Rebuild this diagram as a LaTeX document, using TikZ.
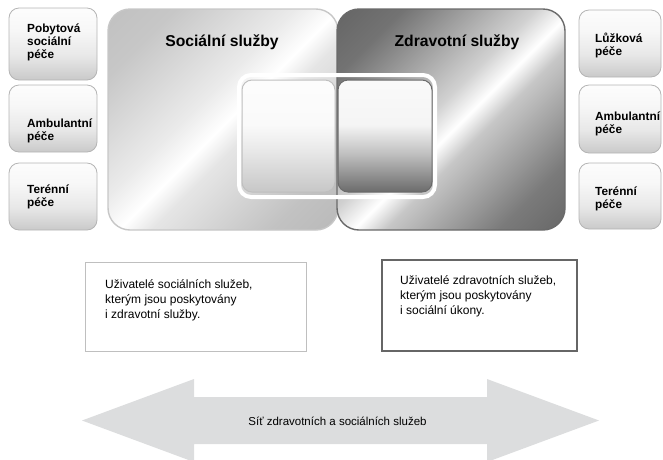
\documentclass[tikz,border=0pt]{standalone}
\usepackage{fontspec}
\setmainfont{Liberation Sans}
\definecolor{arrowgray}{HTML}{DCDDDE}
\definecolor{lightedge}{HTML}{B4B4B4}
\definecolor{darkedge}{HTML}{6A6A6A}
% diagonal sheen of the two large service panels
\pgfdeclarehorizontalshading{socsheen}{100bp}{%
  color(0bp)=(black!28); color(25bp)=(black!22); color(44bp)=(black!8);
  color(51bp)=(white); color(56bp)=(black!10); color(75bp)=(black!24);
  color(100bp)=(black!32)}
\pgfdeclarehorizontalshading{zdrsheen}{100bp}{%
  color(0bp)=(black!68); color(25bp)=(black!55); color(46bp)=(black!18);
  color(52bp)=(white); color(57bp)=(black!22); color(75bp)=(black!52);
  color(100bp)=(black!70)}
% soft vertical fade of the small boxes
\pgfdeclareverticalshading{sidefade}{100bp}{%
  color(0bp)=(black!24); color(25bp)=(black!21); color(42bp)=(black!9);
  color(60bp)=(black!3); color(75bp)=(black!1); color(100bp)=(white)}
\pgfdeclareverticalshading{socinner}{100bp}{%
  color(0bp)=(black!26); color(25bp)=(black!22); color(45bp)=(black!8);
  color(55bp)=(black!2); color(100bp)=(white)}
\pgfdeclareverticalshading{zdrinner}{100bp}{%
  color(0bp)=(black!62); color(25bp)=(black!58); color(42bp)=(black!25);
  color(55bp)=(black!4); color(100bp)=(white)}
\begin{document}
\begin{tikzpicture}[x=1pt,y=-1pt,
  sidebox/.style={rounded corners=10pt, draw=lightedge, line width=0.8pt,
    shading=sidefade, inner sep=0pt},
  sidelabel/.style={anchor=west, align=left, font=\fontsize{11.8}{13}\selectfont\bfseries, inner sep=0pt},
  panel/.style={rounded corners=22pt, line width=1.4pt, inner sep=0pt,
    minimum width=#1, minimum height=221pt},
  title/.style={font=\fontsize{15.7}{18}\selectfont\bfseries, inner sep=0pt},
  innerbox/.style={rounded corners=10pt, line width=1pt, inner sep=0pt,
    minimum width=#1, minimum height=112pt},
  userbox/.style={draw, inner sep=0pt, minimum width=#1},
  usertext/.style={anchor=west, align=left, font=\fontsize{12}{15}\selectfont, inner sep=0pt}]
\useasboundingbox (0,0) rectangle (663,459);

% large service panels
\node[panel=230pt, draw=black!22, shading=socsheen, shading angle=-45] (soc) at (223,119.5) {};
\node[panel=228pt, draw=darkedge, shading=zdrsheen, shading angle=-45] (zdr) at (451,119.5) {};
\node[title] (soct) at (222,42) {Sociální služby};
\node[title] (zdrt) at (457,42) {Zdravotní služby};

% overlap: white frame with the two shared boxes
\draw[white, line width=4pt, rounded corners=12pt] (239,75) rectangle (435,197);
\node[innerbox=93pt, draw=black!25, shading=socinner] (socin) at (288.5,136) {};
\node[innerbox=94pt, draw=darkedge, shading=zdrinner] (zdrin) at (385,136) {};

% forms of social care
\node[sidebox, minimum width=88pt, minimum height=72pt] (l1) at (53,44) {};
\node[sidebox, minimum width=88pt, minimum height=67pt] (l2) at (53,118.5) {};
\node[sidebox, minimum width=88pt, minimum height=67pt] (l3) at (53,196.5) {};
\node[sidelabel] (l1t) at (27,42) {Pobytová\\sociální\\péče};
\node[sidelabel] (l2t) at (27,131) {Ambulantní\\péče};
\node[sidelabel] (l3t) at (27,197) {Terénní\\péče};

% forms of health care
\node[sidebox, minimum width=82pt, minimum height=67pt] (r1) at (620,43.5) {};
\node[sidebox, minimum width=82pt, minimum height=68pt] (r2) at (620,119) {};
\node[sidebox, minimum width=82pt, minimum height=66pt] (r3) at (620,196) {};
\node[sidelabel] (r1t) at (595,45.5) {Lůžková\\péče};
\node[sidelabel] (r2t) at (595,123.5) {Ambulantní\\péče};
\node[sidelabel] (r3t) at (595,198.5) {Terénní\\péče};

% user groups
\node[userbox=221pt, draw=black!25, line width=0.8pt, minimum height=89pt] (ub1) at (195.5,306.5) {};
\node[userbox=195pt, draw=black!60, line width=1.1pt, minimum height=91pt] (ub2) at (479.5,305.5) {};
\node[usertext] (ut1) at (105,300) {Uživatelé sociálních služeb,\\kterým jsou poskytovány\\i zdravotní služby.};
\node[usertext] (ut2) at (400,296.5) {Uživatelé zdravotních služeb,\\kterým jsou poskytovány\\i sociální úkony.};

% network arrow
\fill[arrowgray] (82,420.5) -- (194,379) -- (194,397) -- (487,397) -- (487,379)
  -- (599,420.5) -- (487,462) -- (487,444) -- (194,444) -- (194,462) -- cycle;
\node[font=\fontsize{11.5}{14}\selectfont, inner sep=0pt] (net) at (337.5,421)
  {Síť zdravotních a sociálních služeb};
\end{tikzpicture}
\end{document}
